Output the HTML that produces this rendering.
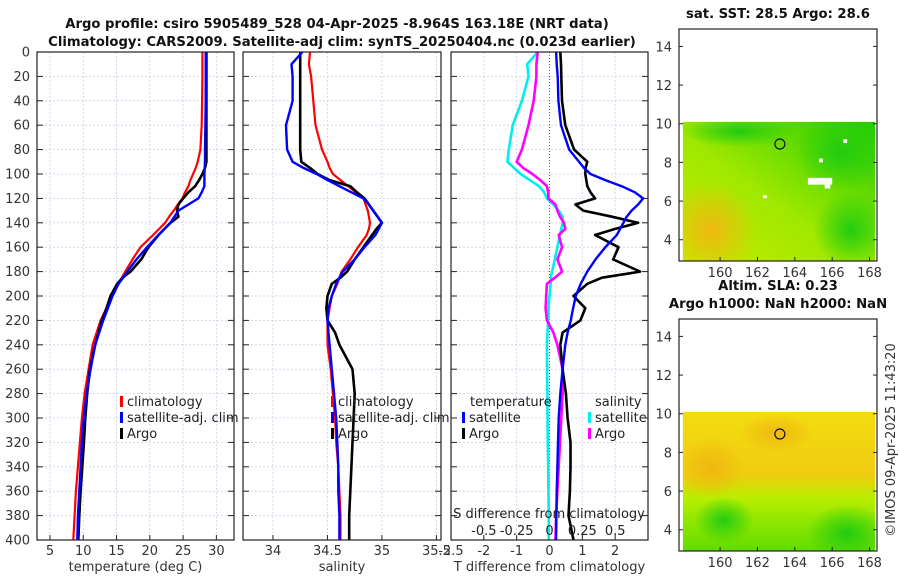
<!DOCTYPE html>
<html><head><meta charset="utf-8">
<style>
html,body{margin:0;padding:0;background:#fff;}
svg{display:block;font-family:"DejaVu Sans","Liberation Sans",sans-serif;}
</style></head>
<body>
<svg id="fig" width="900" height="580" viewBox="0 0 900 580" xmlns="http://www.w3.org/2000/svg">
<defs>
<linearGradient id="sstg" x1="0" y1="1" x2="1" y2="0">
<stop offset="0" stop-color="#c8ea00"/><stop offset="0.45" stop-color="#9fe800"/><stop offset="1" stop-color="#22cc00"/>
</linearGradient>
<linearGradient id="slag" x1="0" y1="0" x2="0" y2="1">
<stop offset="0" stop-color="#f2dc10"/><stop offset="0.45" stop-color="#f0cc10"/><stop offset="0.62" stop-color="#b8ee00"/><stop offset="1" stop-color="#60dc00"/>
</linearGradient>
<radialGradient id="blob"><stop offset="0" stop-color="#22cc10"/><stop offset="1" stop-color="#22cc10" stop-opacity="0"/></radialGradient>
<radialGradient id="oblob"><stop offset="0" stop-color="#f0b810"/><stop offset="1" stop-color="#f0b810" stop-opacity="0"/></radialGradient>
</defs>
</svg>
<script>
// ---------- data ----------
const depths = [0,10,20,40,60,80,90,95,100,105,110,115,120,125,130,135,140,145,150,160,170,180,185,190,200,210,220,230,240,260,280,300,320,340,360,380,400];
const tempClim = [27.9,27.9,27.9,27.85,27.8,27.6,27.2,26.9,26.5,26.1,25.8,25.3,24.9,24.2,23.6,22.9,22.3,21.4,20.5,18.6,17.4,16.3,15.8,15.3,14.4,13.5,12.6,12.0,11.4,10.8,10.2,9.8,9.5,9.2,8.9,8.7,8.5];
const tempSat = [28.4,28.4,28.4,28.4,28.35,28.3,28.3,28.25,28.2,28.2,28.2,27.8,27.3,25.8,24.3,23.7,23.1,22.2,21.3,19.6,18.0,16.6,16.0,15.3,14.4,13.7,13.0,12.4,11.8,11.1,10.5,10.1,9.8,9.6,9.4,9.2,9.1];
const tempArgo = [28.5,28.5,28.5,28.5,28.5,28.5,28.5,28.3,27.9,27.4,26.8,25.8,25.0,24.3,24.1,24.3,23.1,22.2,21.3,19.8,18.7,17.1,15.9,15.1,14.1,13.5,12.8,12.3,11.8,11.0,10.6,10.3,10.1,9.85,9.6,9.4,9.25];
const salClim = [34.34,34.33,34.35,34.37,34.39,34.45,34.50,34.52,34.55,34.62,34.69,34.76,34.83,34.85,34.87,34.88,34.89,34.88,34.86,34.78,34.71,34.63,34.61,34.59,34.54,34.52,34.50,34.50,34.50,34.53,34.55,34.57,34.58,34.60,34.61,34.62,34.62];
const salSat = [34.27,34.17,34.18,34.18,34.12,34.13,34.18,34.28,34.40,34.50,34.61,34.72,34.83,34.88,34.92,34.96,35.0,34.97,34.94,34.84,34.75,34.64,34.61,34.58,34.54,34.51,34.50,34.51,34.52,34.54,34.56,34.58,34.59,34.60,34.60,34.61,34.61];
const salArgo = [34.25,34.25,34.25,34.25,34.25,34.25,34.26,34.34,34.41,34.52,34.71,34.77,34.84,34.88,34.92,34.96,35.0,34.95,34.91,34.83,34.75,34.68,34.62,34.54,34.50,34.49,34.50,34.57,34.61,34.73,34.75,34.74,34.73,34.72,34.71,34.70,34.70];
const tdiffSat = [0.2,0.22,0.25,0.27,0.35,0.6,0.9,1.05,1.25,1.7,2.2,2.6,2.85,2.7,2.5,2.35,2.25,2.15,2.05,1.7,1.4,1.15,1.05,0.95,0.8,0.72,0.65,0.55,0.48,0.4,0.33,0.28,0.26,0.24,0.22,0.21,0.2];
const tdiffArgo = [0.33,0.35,0.36,0.38,0.48,0.75,1.15,1.1,1.09,1.12,1.15,1.25,1.39,0.79,1.03,1.9,2.7,2.0,1.39,2.1,1.94,2.76,1.6,1.15,0.73,1.09,0.94,0.4,0.33,0.4,0.5,0.55,0.64,0.64,0.62,0.58,0.73];
const sdiffSat = [-0.09,-0.17,-0.16,-0.21,-0.28,-0.31,-0.32,-0.27,-0.22,-0.15,-0.08,-0.04,-0.02,0.03,0.07,0.1,0.1,0.09,0.08,0.06,0.04,0.02,0.01,0.008,0.0,-0.008,-0.01,-0.015,-0.02,-0.018,-0.016,-0.015,-0.013,-0.01,-0.008,-0.006,-0.005];
const sdiffArgo = [-0.09,-0.1,-0.1,-0.12,-0.16,-0.21,-0.25,-0.2,-0.13,-0.07,-0.02,-0.01,-0.008,0.045,0.06,0.08,0.11,0.12,0.07,0.096,0.06,0.096,0.04,-0.02,-0.025,-0.03,-0.02,0.03,0.06,0.1,0.1,0.09,0.08,0.07,0.06,0.05,0.045];
const depthTicks = [0,20,40,60,80,100,120,140,160,180,200,220,240,260,280,300,320,340,360,380,400];
const tempTicks = [5,10,15,20,25,30];
const salTicks = [34,34.5,35,35.5];
const tdiffTicks = [-2,-1,0,1,2];
const sdiffTicks = [-0.5,-0.25,0,0.25,0.5];
const sdiffTickLabels = ["-0.5","-0.25","0","0.25","0.5"];
const latTicks = [4,6,8,10,12,14];
const lonTicks = [160,162,164,166,168];
const argoLon = 163.2, argoLat = 8.95;

// ---------- helpers ----------
const NS = "http://www.w3.org/2000/svg";
const svg = document.getElementById('fig');
function mk(tag, attrs, parent){const e=document.createElementNS(NS,tag);for(const k in attrs)e.setAttribute(k,attrs[k]);(parent||svg).appendChild(e);return e;}
function txt(s, attrs, parent){const e=mk('text',attrs,parent);e.textContent=s;return e;}
const PT=52, PB=540;
const yScale = d => PT + (d/400)*(PB-PT);
function lin(d0,d1,r0,r1){return v => r0 + (v-d0)/(d1-d0)*(r1-r0);}
const panels = [
 {name:'temperature-panel', x0:37, x1:234, sc:lin(3.05,32.65,37,234)},
 {name:'salinity-panel', x0:243, x1:441, sc:lin(33.725,35.542,243,441)},
 {name:'difference-panel', x0:451, x1:648, sc:lin(-3,3,451,648)}
];
const sdScale = lin(-0.75,0.75,451,648);

function frame(p, xt, xlab, fmt, grid){
  const g = mk('g',{});
  
  
  const gg = mk('g',{},g);
  
  
  depthTicks.forEach(d=>{ if(d>0&&d<400) mk('line',{x1:p.x0,x2:p.x1,y1:yScale(d),y2:yScale(d),stroke:'#c9cfe6','stroke-width':0.8,'stroke-dasharray':'2,2'},gg);});
  grid.forEach(v=>{const x=p.sc(v); mk('line',{x1:x,x2:x,y1:PT,y2:PB,stroke:'#c9cfe6','stroke-width':0.8,'stroke-dasharray':'2,2'},gg);});
  depthTicks.forEach(d=>{const y=yScale(d);
    mk('line',{x1:p.x0,x2:p.x0+6,y1:y,y2:y,stroke:'#222','stroke-width':1},g);
    mk('line',{x1:p.x1,x2:p.x1-6,y1:y,y2:y,stroke:'#222','stroke-width':1},g);});
  const xa = mk('g',{},g);
  
  
  xt.forEach(v=>{const x=p.sc(v);
    mk('line',{x1:x,x2:x,y1:PB,y2:PB-5,stroke:'#222','stroke-width':1},xa);
    txt(fmt(v),{x:x,y:555,'font-size':13,'text-anchor':'middle',fill:'#333'},xa);});
  const t = txt(xlab,{x:(p.x0+p.x1)/2,y:571,'font-size':13,'text-anchor':'middle',fill:'#333'},g);
  
  
  return g;
}
function line(g, xs, sc, color, w, name){
  const pts = depths.map((d,i)=>sc(xs[i]).toFixed(1)+','+yScale(d).toFixed(1)).join(' ');
  const pl = mk('polyline',{points:pts,fill:'none',stroke:color,'stroke-width':w,'stroke-linejoin':'round'},g);
  
  
}
function legendEntry(x,y,color,label,name){
  const g = mk('g',{});
  
  
  mk('rect',{x:x,y:y-10,width:3,height:11,fill:color},g);
  txt(label,{x:x+7,y:y,'font-size':13,fill:'#222'},g);
}

// ---------- panel 1 ----------
const p1 = frame(panels[0], tempTicks, 'temperature (deg C)', v=>String(v), tempTicks);
line(p1,tempClim,panels[0].sc,'#ff0000',2.2,'temperature-climatology-line');
line(p1,tempArgo,panels[0].sc,'#000000',2.6,'temperature-argo-line');
line(p1,tempSat,panels[0].sc,'#0000ff',2.4,'temperature-satellite-line');
const yl = mk('g',{});


depthTicks.forEach(d=>txt(String(d),{x:30,y:yScale(d)+4.5,'font-size':13,'text-anchor':'end',fill:'#333'},yl));
legendEntry(120,406,'#ff0000','climatology','legend-climatology');
legendEntry(120,422,'#0000ff','satellite-adj. clim','legend-satellite-adj-clim');
legendEntry(120,438,'#000000','Argo','legend-argo');

// ---------- panel 2 ----------
const p2 = frame(panels[1], salTicks, 'salinity', v=>String(v), salTicks);
line(p2,salClim,panels[1].sc,'#ff0000',2.2,'salinity-climatology-line');
line(p2,salArgo,panels[1].sc,'#000000',2.6,'salinity-argo-line');
line(p2,salSat,panels[1].sc,'#0000ff',2.4,'salinity-satellite-line');
legendEntry(331,406,'#ff0000','climatology','legend2-climatology');
legendEntry(331,422,'#0000ff','satellite-adj. clim','legend2-satellite-adj-clim');
legendEntry(331,438,'#000000','Argo','legend2-argo');

// ---------- panel 3 ----------
const p3 = frame(panels[2], tdiffTicks, 'T difference from climatology', v=>String(v), [-2,-1,1,2]);
txt('-2.5',{x:451,y:555,'font-size':13,'text-anchor':'middle',fill:'#333'},p3);
const zl = mk('line',{x1:panels[2].sc(0),x2:panels[2].sc(0),y1:PT,y2:PB,stroke:'#556b2f','stroke-width':1,'stroke-dasharray':'1,2'},p3);


line(p3,sdiffSat,sdScale,'#00eeee',2.6,'salinity-diff-satellite-line');
line(p3,sdiffArgo,sdScale,'#ff00ff',2.6,'salinity-diff-argo-line');
line(p3,tdiffArgo,panels[2].sc,'#000000',2.6,'temperature-diff-argo-line');
line(p3,tdiffSat,panels[2].sc,'#0000ff',2.4,'temperature-diff-satellite-line');
const sa = mk('g',{});


txt('S difference from climatology',{x:549,y:518,'font-size':13,'text-anchor':'middle',fill:'#222'},sa);
sdiffTicks.forEach((v,i)=>txt(sdiffTickLabels[i],{x:sdScale(v),y:535,'font-size':13,'text-anchor':'middle',fill:'#222'},sa));
txt('temperature',{x:470,y:406,'font-size':13,fill:'#222'},p3);
txt('salinity',{x:595,y:406,'font-size':13,fill:'#222'},p3);
legendEntry(462,422,'#0000ff','satellite','legend3-temp-satellite');
legendEntry(462,438,'#000000','Argo','legend3-temp-argo');
legendEntry(588,422,'#00eeee','satellite','legend3-sal-satellite');
legendEntry(588,438,'#ff00ff','Argo','legend3-sal-argo');

// panel borders
panels.forEach(p=>{const r=mk('rect',{x:p.x0,y:PT,width:p.x1-p.x0,height:PB-PT,fill:'none',stroke:'#222','stroke-width':1.2});
  
  });

// titles
const t1 = txt('Argo profile: csiro 5905489_528 04-Apr-2025 -8.964S 163.18E (NRT data)',{x:337,y:28,'font-size':13.2,'font-weight':'bold','text-anchor':'middle',fill:'#111'});


const t2 = txt('Climatology: CARS2009. Satellite-adj clim: synTS_20250404.nc (0.023d earlier)',{x:342,y:46,'font-size':13.2,'font-weight':'bold','text-anchor':'middle',fill:'#111'});



// ---------- maps ----------
const lonSc = lin(157.8,168.4,679,877);
function drawMap(name, top, bottom, fillId, blobs, title, whites){
  const latSc = lin(2.9,14.9,bottom,top);
  const g = mk('g',{});
  
  
  const clipId = name+'-clip';
  const cp = mk('clipPath',{id:clipId},g);
  mk('rect',{x:lonSc(158),y:latSc(10.1),width:lonSc(168.3)-lonSc(158),height:bottom-latSc(10.1)},cp);
  const field = mk('g',{'clip-path':'url(#'+clipId+')'},g);
  
  
  mk('rect',{x:lonSc(158),y:latSc(10.1),width:lonSc(168.3)-lonSc(158),height:bottom-latSc(10.1),fill:'url(#'+fillId+')'},field);
  blobs.forEach(b=>mk('ellipse',{cx:lonSc(b[0]),cy:latSc(b[1]),rx:b[2]*18.7,ry:b[3]*19.3,fill:'url(#'+b[4]+')'},field));
  whites.forEach(w=>mk('rect',{x:lonSc(w[0]),y:latSc(w[1]),width:w[2]*18.7,height:w[3]*19.3,fill:'#fff'},field));
  mk('rect',{x:679,y:top,width:198,height:bottom-top,fill:'none',stroke:'#222','stroke-width':1.2},g);
  latTicks.forEach(v=>{const y=latSc(v);
    mk('line',{x1:679,x2:683,y1:y,y2:y,stroke:'#222'},g);
    mk('line',{x1:877,x2:873,y1:y,y2:y,stroke:'#222'},g);
    txt(String(v),{x:672,y:y+5,'font-size':13,'text-anchor':'end',fill:'#333'},g);});
  lonTicks.forEach(v=>{const x=lonSc(v);
    mk('line',{x1:x,x2:x,y1:bottom,y2:bottom-4,stroke:'#222'},g);
    txt(String(v),{x:x,y:bottom+16,'font-size':13,'text-anchor':'middle',fill:'#333'},g);});
  const c = mk('circle',{cx:lonSc(argoLon),cy:latSc(argoLat),r:5,fill:'none',stroke:'#111','stroke-width':1.2},g);
  
  
  title.forEach((s,i)=>{const t=txt(s,{x:778,y:top-11-(title.length-1-i)*18,'font-size':13.2,'font-weight':'bold','text-anchor':'middle',fill:'#111'});
    
    });
}
drawMap('sst-map',29,261,'sstg',[[159.5,4.5,2.5,2.5,'oblob'],[161,9.6,3,0.8,'blob'],[166.5,8.5,2.5,2,'blob'],[167,4.5,2,2,'blob']],['sat. SST: 28.5 Argo: 28.6'],[[164.7,7.2,1.3,0.35],[165.6,6.85,0.3,0.2],[165.3,8.2,0.2,0.2],[166.6,9.2,0.2,0.2],[162.3,6.3,0.2,0.15]]);
drawMap('sla-map',319,551,'slag',[[160.2,4.5,1.6,1.2,'blob'],[166.8,3.8,2.2,1.5,'blob'],[159.5,7.2,1.8,1.6,'oblob'],[163,9,2,1,'oblob']],['Altim. SLA: 0.23','Argo h1000: NaN h2000: NaN'],[]);
const cr = txt('\u00A9IMOS 09-Apr-2025 11:43:20',{x:0,y:0,'font-size':13,'text-anchor':'middle',fill:'#333',transform:'translate(895,440) rotate(-90)'});


</script>
</body></html>
